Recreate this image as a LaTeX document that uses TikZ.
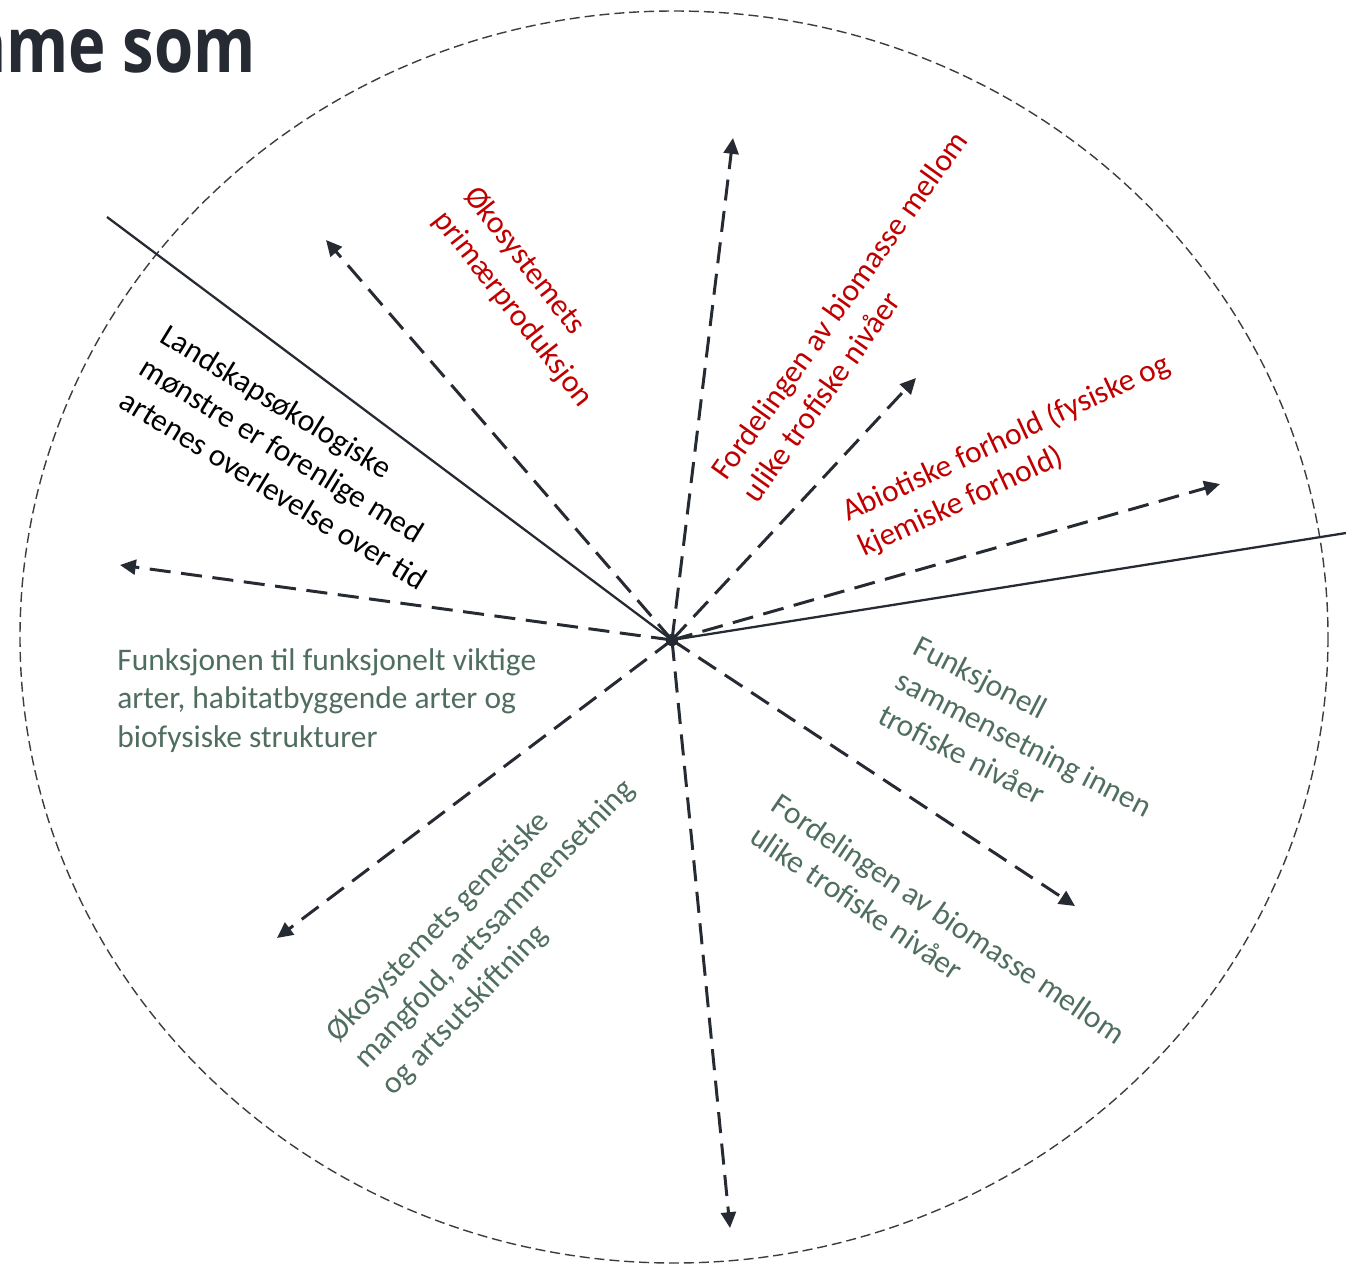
\documentclass[tikz,border=0pt]{standalone}
\usepackage{fontspec}
\setmainfont{Carlito}
\newfontfamily\titlefont{Open Sans}
\usetikzlibrary{arrows.meta}
\definecolor{redtxt}{HTML}{C00000}
\definecolor{greentxt}{HTML}{4F6E5F}
\definecolor{linec}{HTML}{262B33}
\definecolor{circc}{HTML}{3A3D42}
\begin{document}
\begin{tikzpicture}[x=0.02cm,y=-0.02cm,
  lbl/.style={inner sep=0pt, anchor=base west, align=left, font=\fontsize{17.9pt}{21.9pt}\selectfont},
  arr/.style={draw=linec, line width=1.7pt, dash pattern=on 12pt off 6pt, -{Triangle[length=9pt,width=8.5pt]}},
  sol/.style={draw=linec, line width=1.3pt},
  ring/.style={draw=circc, line width=0.8pt, dash pattern=on 5.7pt off 2.8pt}]
\useasboundingbox (0,0) rectangle (1346,1265);
% outer dashed ellipse
\draw[ring] (674,637) ellipse [x radius=654, y radius=626];
% title
\node[anchor=base east, inner sep=0pt, text=linec, xscale=0.82,
      font=\titlefont\bfseries\fontsize{44pt}{50pt}\selectfont] (title) at (256,72) {ame som};
% centre
\node[circle, fill=linec, inner sep=0pt, minimum size=7pt] (c) at (672,640) {};
\coordinate (tU) at (733,138);
\coordinate (tUL) at (326,240);
\coordinate (tUR) at (916,378);
\coordinate (tR) at (1220,484);
\coordinate (tL) at (120,565);
\coordinate (tLL) at (277,938);
\coordinate (tD) at (730,1228);
\coordinate (tLR) at (1075,906);
\coordinate (sA) at (107,217);
\coordinate (sB) at (1346,533);
% solid lines
\draw[sol] (sA) -- (c.center);
\draw[sol] (c.center) -- (sB);
% dashed arrows
\foreach \t in {tU,tUL,tUR,tR,tL,tLL,tD,tLR}
  \draw[arr] (c.center) -- (\t);
% labels (anchor = baseline of the last line)
\node[lbl, text=redtxt, rotate=-52] (l1) at (432.6,219.8) {Økosystemets\\primærproduksjon};
\node[lbl, text=redtxt, rotate=54.5] (l2) at (757.4,504.4) {Fordelingen av biomasse mellom\\ulike trofiske nivåer};
\node[lbl, text=redtxt, rotate=25] (l3) at (864.3,557) {Abiotiske forhold (fysiske og\\kjemiske forhold)};
\node[lbl, text=black, rotate=-31.5] (l4) at (117.5,406.5) {Landskapsøkologiske\\mønstre er forenlige med\\artenes overlevelse over tid};
\node[lbl, text=greentxt] (l5) at (117,747.2) {Funksjonen til funksjonelt viktige\\arter, habitatbyggende arter og\\biofysiske strukturer};
\node[lbl, text=greentxt, rotate=-27.3] (l6) at (876,722) {Funksjonell\\sammensetning innen\\trofiske nivåer};
\node[lbl, text=greentxt, rotate=-34.2] (l7) at (748,841.5) {Fordelingen av biomasse mellom\\ulike trofiske nivåer};
\node[lbl, text=greentxt, rotate=46] (l8) at (393.5,1096.7) {Økosystemets genetiske\\mangfold, artssammensetning\\og artsutskiftning};
\end{tikzpicture}
\end{document}
